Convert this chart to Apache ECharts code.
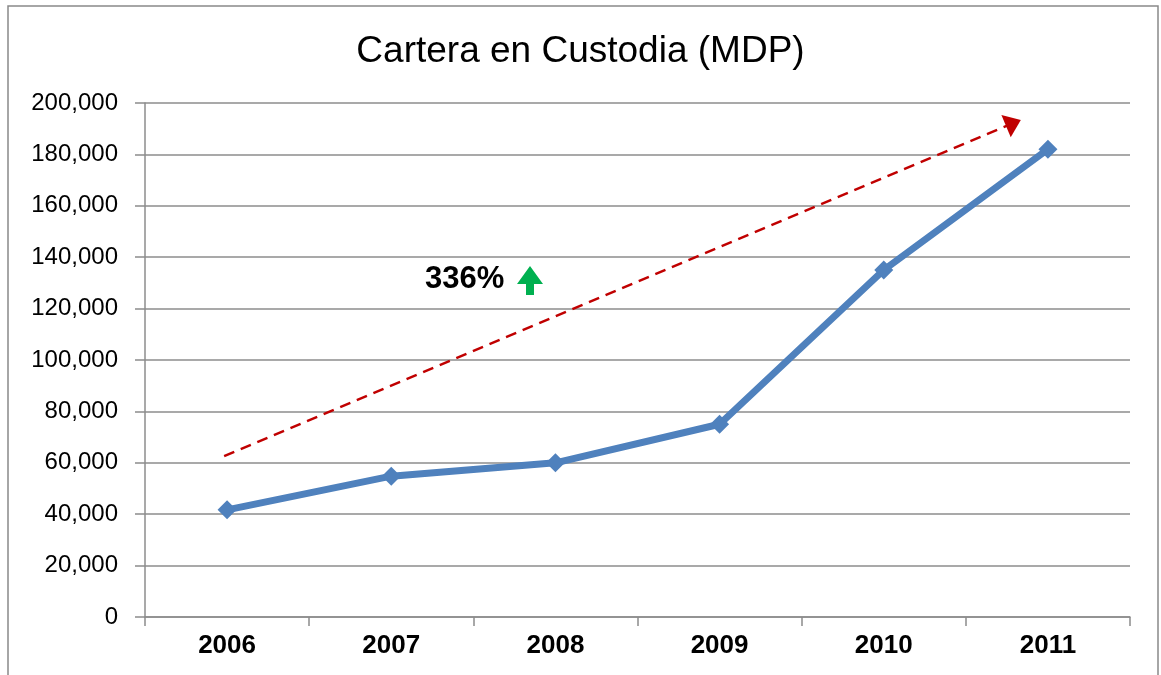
<!DOCTYPE html>
<html>
<head>
<meta charset="utf-8">
<title>Cartera en Custodia (MDP)</title>
<script src="https://cdn.jsdelivr.net/npm/echarts@6/dist/echarts.min.js"></script>
<style>
  html, body { margin: 0; padding: 0; background: #ffffff; }
  #chart { width: 1161px; height: 675px; }
</style>
</head>
<body>
<div id="chart"></div>
<script>
// Portfolio in custody, millions of pesos
const years = ['2006', '2007', '2008', '2009', '2010', '2011'];
const cartera = [41700, 54800, 60000, 75000, 135000, 182000];
const yTicks = { min: 0, max: 200000, interval: 20000 };

// Trend arrow endpoints: [category position, value]
const trendStart = [-0.018, 62600];
const trendEnd = [4.79, 192200];
const growthLabel = '336%';

const chart = echarts.init(document.getElementById('chart'));

const fmt = v => String(v).replace(/\B(?=(\d{3})+(?!\d))/g, ',');
const gridColor = '#8c8c8c';
const font = 'Liberation Sans, Arial, sans-serif';

chart.setOption({
  backgroundColor: '#ffffff',
  animation: false,
  title: {
    text: 'Cartera en Custodia (MDP)',
    left: 'center',
    top: 28,
    textStyle: { fontFamily: font, fontSize: 37, fontWeight: 'normal', color: '#000000' }
  },
  grid: { left: 145, right: 31, top: 103, bottom: 58, containLabel: false },
  xAxis: [
    {
      type: 'category',
      data: years,
      boundaryGap: true,
      axisLine: { show: true, onZero: false, lineStyle: { color: gridColor, width: 1.5 } },
      axisTick: { show: true, length: 9, lineStyle: { color: gridColor, width: 1.5 } },
      axisLabel: { margin: 16, fontFamily: font, fontSize: 26, fontWeight: 'bold', color: '#000000' },
      splitLine: { show: false }
    },
    {
      type: 'value',
      min: -0.5,
      max: 5.5,
      show: false
    }
  ],
  yAxis: {
    type: 'value',
    min: yTicks.min,
    max: yTicks.max,
    interval: yTicks.interval,
    axisLine: { show: true, onZero: false, lineStyle: { color: gridColor, width: 1.5 } },
    axisTick: { show: true, length: 10, lineStyle: { color: gridColor, width: 1.5 } },
    axisLabel: { margin: 27, formatter: fmt, fontFamily: font, fontSize: 24, color: '#000000' },
    splitLine: { show: true, lineStyle: { color: gridColor, width: 1.5 } }
  },
  series: [
    {
      name: 'Cartera',
      type: 'line',
      data: cartera,
      symbol: 'diamond',
      symbolSize: 19,
      lineStyle: { color: '#4F81BD', width: 7 },
      itemStyle: { color: '#4F81BD' },
      z: 3
    },
    {
      name: 'Tendencia',
      type: 'line',
      xAxisIndex: 1,
      data: [trendStart, trendEnd],
      showSymbol: false,
      silent: true,
      color: '#C00000',
      lineStyle: { width: 0, opacity: 0 },
      markLine: {
        silent: true,
        label: { show: false },
        lineStyle: { color: '#C00000', width: 2.5, type: [11, 7], opacity: 1 },
        itemStyle: { color: '#C00000', opacity: 1 },
        data: [[
          { coord: trendStart, symbol: 'none', symbolSize: 0 },
          { coord: trendEnd, symbol: 'triangle', symbolSize: [24, 16] }
        ]]
      },
      z: 2
    }
  ],
  graphic: [
    {
      type: 'rect',
      shape: { x: 8, y: 6, width: 1150, height: 700 },
      style: { fill: 'none', stroke: '#898989', lineWidth: 1.5 },
      silent: true,
      z: -1
    },
    {
      type: 'text',
      x: 425,
      y: 279,
      style: {
        text: growthLabel,
        fontFamily: font,
        fontSize: 31,
        fontWeight: 'bold',
        fill: '#000000',
        verticalAlign: 'middle',
        textVerticalAlign: 'middle'
      }
    },
    {
      type: 'polygon',
      shape: {
        points: [[530, 266], [543, 284], [534, 284], [534, 295], [526, 295], [526, 284], [517, 284]]
      },
      style: { fill: '#00B050' }
    }
  ]
});
</script>
</body>
</html>
